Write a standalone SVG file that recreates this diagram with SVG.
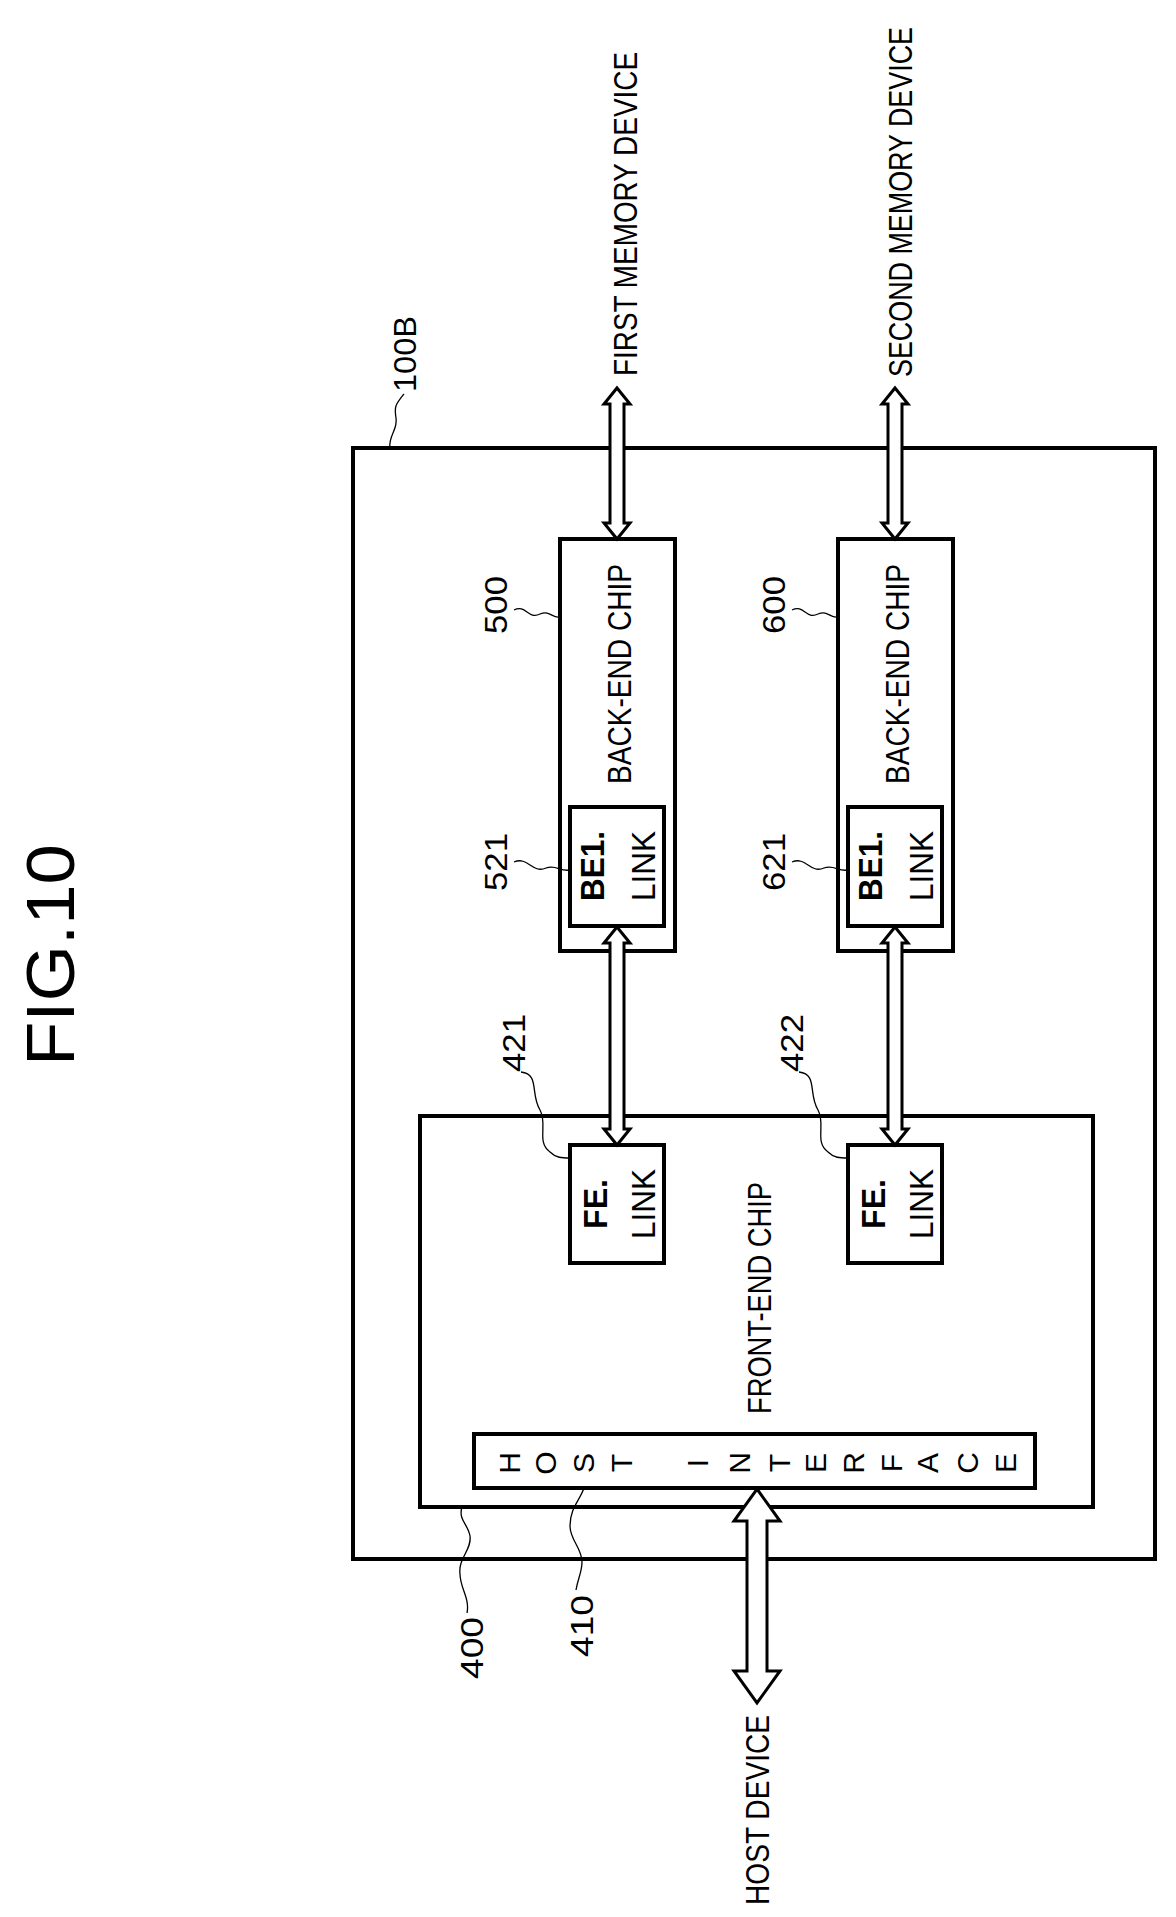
<svg xmlns="http://www.w3.org/2000/svg" width="1176" height="1917" viewBox="0 0 1176 1917">
<style>
.b{fill:none;stroke:#000;stroke-width:4}
.a{fill:#fff;stroke:#000;stroke-width:3;stroke-linejoin:miter}
.l{fill:none;stroke:#000;stroke-width:1.3}
text{font-family:"Liberation Sans",Arial,sans-serif;fill:#000}
.t{font-size:34px}
.n{font-size:32px}
.hi{font-size:30px;text-anchor:middle}
</style>
<rect width="1176" height="1917" fill="#fff"/>
<text x="0" y="0" font-size="68" text-anchor="middle" textLength="222" lengthAdjust="spacingAndGlyphs" transform="translate(74,955) rotate(-90)">FIG.10</text>
<g id="n100B">
<rect class="b" x="353" y="448" width="802" height="1111"/>
<text class="n" text-anchor="middle" textLength="76" lengthAdjust="spacingAndGlyphs" transform="translate(416,354) rotate(-90)">100B</text>
<path class="l" d="M404,394 C396,404 394,406 396,418 C398,430 388,436 390,448"/>
</g>
<g id="n500">
<rect class="b" x="560" y="539" width="115" height="412"/>
<text class="t" text-anchor="middle" textLength="220" lengthAdjust="spacingAndGlyphs" transform="translate(631,674) rotate(-90)">BACK-END CHIP</text>
<text class="n" text-anchor="middle" textLength="58" lengthAdjust="spacingAndGlyphs" transform="translate(507,605) rotate(-90)">500</text>
<path class="l" d="M514,610 C526,604 528,620 540,614 C550,610 552,618 559,617"/>
</g>
<g id="n521">
<rect class="b" x="570" y="807" width="94" height="119"/>
<text class="t" font-weight="bold" text-anchor="middle" textLength="70" lengthAdjust="spacingAndGlyphs" transform="translate(604,866) rotate(-90)">BE1.</text>
<text class="t" text-anchor="middle" textLength="70" lengthAdjust="spacingAndGlyphs" transform="translate(655,866) rotate(-90)">LINK</text>
<text class="n" text-anchor="middle" textLength="58" lengthAdjust="spacingAndGlyphs" transform="translate(507,862) rotate(-90)">521</text>
<path class="l" d="M514,862 C528,856 532,874 546,868 C556,864 560,872 570,870"/>
</g>
<g id="n600">
<rect class="b" x="838" y="539" width="115" height="412"/>
<text class="t" text-anchor="middle" textLength="220" lengthAdjust="spacingAndGlyphs" transform="translate(909,674) rotate(-90)">BACK-END CHIP</text>
<text class="n" text-anchor="middle" textLength="58" lengthAdjust="spacingAndGlyphs" transform="translate(785,605) rotate(-90)">600</text>
<path class="l" d="M792,610 C804,604 806,620 818,614 C828,610 830,618 837,617"/>
</g>
<g id="n621">
<rect class="b" x="848" y="807" width="94" height="119"/>
<text class="t" font-weight="bold" text-anchor="middle" textLength="70" lengthAdjust="spacingAndGlyphs" transform="translate(882,866) rotate(-90)">BE1.</text>
<text class="t" text-anchor="middle" textLength="70" lengthAdjust="spacingAndGlyphs" transform="translate(933,866) rotate(-90)">LINK</text>
<text class="n" text-anchor="middle" textLength="58" lengthAdjust="spacingAndGlyphs" transform="translate(785,862) rotate(-90)">621</text>
<path class="l" d="M792,862 C806,856 810,874 824,868 C834,864 838,872 848,870"/>
</g>
<g id="n400">
<rect class="b" x="420" y="1116" width="673" height="391"/>
<text class="t" text-anchor="middle" textLength="232" lengthAdjust="spacingAndGlyphs" transform="translate(771,1298) rotate(-90)">FRONT-END CHIP</text>
<text class="n" text-anchor="middle" textLength="62" lengthAdjust="spacingAndGlyphs" transform="translate(483,1648) rotate(-90)">400</text>
<path class="l" d="M467,1613 C470,1598 460,1588 460,1574 C458,1558 472,1550 470,1536 C468,1524 458,1520 462,1507"/>
</g>
<g id="n410">
<rect class="b" x="474" y="1434" width="561" height="54"/>
<g class="hi">
<text transform="translate(520,1463) rotate(-90)">H</text>
<text transform="translate(556,1463) rotate(-90)">O</text>
<text transform="translate(594,1463) rotate(-90)">S</text>
<text transform="translate(632,1463) rotate(-90)">T</text>
<text transform="translate(708,1463) rotate(-90)">I</text>
<text transform="translate(750,1463) rotate(-90)">N</text>
<text transform="translate(790,1463) rotate(-90)">T</text>
<text transform="translate(826,1463) rotate(-90)">E</text>
<text transform="translate(864,1463) rotate(-90)">R</text>
<text transform="translate(902,1463) rotate(-90)">F</text>
<text transform="translate(938,1463) rotate(-90)">A</text>
<text transform="translate(978,1463) rotate(-90)">C</text>
<text transform="translate(1016,1463) rotate(-90)">E</text>
</g>
<text class="n" text-anchor="middle" textLength="62" lengthAdjust="spacingAndGlyphs" transform="translate(593,1626) rotate(-90)">410</text>
<path class="l" d="M576,1590 C578,1578 582,1572 582,1562 C582,1548 570,1540 570,1526 C570,1508 580,1500 584,1488"/>
</g>
<g id="n421">
<rect class="b" x="570" y="1145" width="94" height="118"/>
<text class="t" font-weight="bold" text-anchor="middle" textLength="50" lengthAdjust="spacingAndGlyphs" transform="translate(607,1204) rotate(-90)">FE.</text>
<text class="t" text-anchor="middle" textLength="70" lengthAdjust="spacingAndGlyphs" transform="translate(655,1204) rotate(-90)">LINK</text>
<text class="n" text-anchor="middle" textLength="58" lengthAdjust="spacingAndGlyphs" transform="translate(525,1043) rotate(-90)">421</text>
<path class="l" d="M521,1072 C540,1074 530,1094 540,1110 C548,1124 536,1142 550,1152 C556,1158 562,1158 570,1158"/>
</g>
<g id="n422">
<rect class="b" x="848" y="1145" width="94" height="118"/>
<text class="t" font-weight="bold" text-anchor="middle" textLength="50" lengthAdjust="spacingAndGlyphs" transform="translate(885,1204) rotate(-90)">FE.</text>
<text class="t" text-anchor="middle" textLength="70" lengthAdjust="spacingAndGlyphs" transform="translate(933,1204) rotate(-90)">LINK</text>
<text class="n" text-anchor="middle" textLength="58" lengthAdjust="spacingAndGlyphs" transform="translate(803,1043) rotate(-90)">422</text>
<path class="l" d="M799,1072 C818,1074 808,1094 818,1110 C826,1124 814,1142 828,1152 C834,1158 840,1158 848,1158"/>
</g>
<g id="labels">
<text class="t" text-anchor="middle" textLength="324" lengthAdjust="spacingAndGlyphs" transform="translate(637,214) rotate(-90)">FIRST MEMORY DEVICE</text>
<text class="t" text-anchor="middle" textLength="350" lengthAdjust="spacingAndGlyphs" transform="translate(912,202) rotate(-90)">SECOND MEMORY DEVICE</text>
<text class="t" text-anchor="middle" textLength="190" lengthAdjust="spacingAndGlyphs" transform="translate(769,1810) rotate(-90)">HOST DEVICE</text>
</g>
<g id="connectors">
<path class="a" d="M617,388 L630,404 L624,404 L624,523 L630,523 L617,539 L604,523 L610,523 L610,404 L604,404 Z"/>
<path class="a" d="M617,927 L630,943 L624,943 L624,1129 L630,1129 L617,1145 L604,1129 L610,1129 L610,943 L604,943 Z"/>
<path class="a" d="M895,388 L908,404 L902,404 L902,523 L908,523 L895,539 L882,523 L888,523 L888,404 L882,404 Z"/>
<path class="a" d="M895,927 L908,943 L902,943 L902,1129 L908,1129 L895,1145 L882,1129 L888,1129 L888,943 L882,943 Z"/>
<path class="a" d="M757,1489 L780,1521 L767,1521 L767,1671 L780,1671 L757,1703 L734,1671 L747,1671 L747,1521 L734,1521 Z"/>
</g>
</svg>
